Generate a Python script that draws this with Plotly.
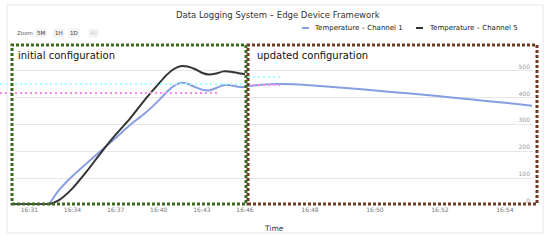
import plotly.graph_objects as go

day = "2021-03-15 "

# Channel 5 - only logged during the initial configuration
ch5_time = ["16:30:00", "16:31:00", "16:32:00", "16:32:20", "16:33:00", "16:34:00",
            "16:35:00", "16:36:00", "16:37:00", "16:38:00", "16:39:00", "16:40:00",
            "16:40:30", "16:41:00", "16:41:30", "16:42:00", "16:42:30", "16:43:00",
            "16:43:30", "16:44:00", "16:44:30", "16:45:00", "16:45:30", "16:46:00"]
ch5_vals = [3, 3, 3, 3, 16, 62, 126, 196, 262, 322, 390, 452,
            482, 505, 517, 516, 507, 493, 486, 490, 498, 497, 492, 488]

# Channel 1 - initial configuration
ch1_time_a = ch5_time
ch1_vals_a = [3, 3, 3, 3, 52, 108, 156, 203, 250, 298, 340, 390,
              418, 442, 455, 452, 440, 430, 427, 436, 446, 446, 441, 440]

# Channel 1 - updated configuration
ch1_time_b = ["16:46:00", "16:46:30", "16:47:00", "16:47:30", "16:48:00", "16:49:00",
              "16:50:00", "16:51:00", "16:52:00", "16:53:00", "16:54:00", "16:54:50"]
ch1_vals_b = [442, 448, 451, 450, 446, 437, 427, 416, 405, 393, 381, 370]

left_ticks = ["16:31", "16:34", "16:37", "16:40", "16:43", "16:46"]
right_ticks = ["16:48", "16:50", "16:52", "16:54"]

blue = "#869fe2"
black = "#333333"
font = "DejaVu Sans"

fig = go.Figure()
fig.add_trace(go.Scatter(x=[day + t for t in ch1_time_a], y=ch1_vals_a, mode="lines",
                         line=dict(color=blue, width=2, shape="spline", smoothing=0.6),
                         xaxis="x", yaxis="y", name="Temperature – Channel 1"))
fig.add_trace(go.Scatter(x=[day + t for t in ch5_time], y=ch5_vals, mode="lines",
                         line=dict(color=black, width=2, shape="spline", smoothing=0.6),
                         xaxis="x", yaxis="y", name="Temperature – Channel 5"))
fig.add_trace(go.Scatter(x=[day + t for t in ch1_time_b], y=ch1_vals_b, mode="lines",
                         line=dict(color=blue, width=2, shape="spline", smoothing=0.6),
                         xaxis="x2", yaxis="y", name="Temperature – Channel 1"))

split = (245 - 15) / 518
tickfont = dict(family=font, size=6, color="#777777")

fig.update_layout(
    width=550, height=241,
    margin=dict(l=15, r=17, t=44, b=36),
    paper_bgcolor="white", plot_bgcolor="white",
    showlegend=False,
    font=dict(family=font),
    xaxis=dict(domain=[0, split], type="date", anchor="y", automargin=False,
               range=[day + "16:30:00", day + "16:46:00"],
               tickvals=[day + t for t in left_ticks], ticktext=left_ticks,
               tickfont=tickfont, showgrid=False, zeroline=False, ticks=""),
    xaxis2=dict(domain=[split, 1], type="date", anchor="y", automargin=False,
                range=[day + "16:46:00", day + "16:54:52"],
                tickvals=[day + t for t in right_ticks], ticktext=right_ticks,
                tickfont=tickfont, showgrid=False, zeroline=False, ticks=""),
    yaxis=dict(anchor="x2", side="right", range=[0, 600], dtick=100, automargin=False,
               ticklabelposition="inside top", tickfont=dict(family=font, size=6, color="#999999"),
               gridcolor="#e6e6e6", zeroline=False, showline=False),
)


def px(x):
    return (x - 15) / 518


def py(y):
    return (205 - y) / 161


shapes = [
    # chart border
    dict(type="rect", xref="paper", yref="paper", x0=px(7), x1=px(543), y0=py(233), y1=py(5),
         line=dict(color="#e8e8e8", width=1), layer="below"),
    # stray guide lines
    dict(type="line", xref="paper", yref="paper", x0=px(0), x1=px(246), y0=py(84), y1=py(84),
         line=dict(color="#a8ffff", width=2, dash="2px,3px")),
    dict(type="line", xref="paper", yref="paper", x0=px(0), x1=px(218), y0=py(93), y1=py(93),
         line=dict(color="#ff88f0", width=2, dash="2px,3px")),
    dict(type="line", xref="paper", yref="paper", x0=px(248), x1=px(280), y0=py(77), y1=py(77),
         line=dict(color="#a8ffff", width=2, dash="2px,3px")),
    dict(type="line", xref="paper", yref="paper", x0=px(248), x1=px(280), y0=py(85), y1=py(85),
         line=dict(color="#ff88f0", width=2, dash="2px,3px")),
    # configuration boxes
    dict(type="rect", xref="paper", yref="paper", x0=px(248), x1=px(537), y0=py(204), y1=py(45),
         line=dict(color="#6e3a22", width=3, dash="3px,2px")),
    dict(type="rect", xref="paper", yref="paper", x0=px(12), x1=px(246), y0=py(204), y1=py(45),
         line=dict(color="#3c6b1e", width=3, dash="3px,2px")),
    # legend symbols
    dict(type="line", xref="paper", yref="paper", x0=px(302), x1=px(309), y0=py(28), y1=py(28),
         line=dict(color=blue, width=2)),
    dict(type="line", xref="paper", yref="paper", x0=px(416), x1=px(423), y0=py(28), y1=py(28),
         line=dict(color=black, width=2)),
]
fig.update_layout(shapes=shapes)

ann = [
    dict(text="Data Logging System – Edge Device Framework", x=px(278), y=py(15),
         font=dict(size=8.5, color="#333333")),
    dict(text="Temperature – Channel 1", x=px(312), y=py(28), xanchor="left",
         font=dict(size=7, color="#222222")),
    dict(text="Temperature – Channel 5", x=px(427), y=py(28), xanchor="left",
         font=dict(size=7, color="#222222")),
    dict(text="Zoom", x=px(15), y=py(33), xanchor="left", font=dict(size=5.5, color="#666666")),
    dict(text="5M", x=px(41), y=py(33), bgcolor="#f2f2f2", font=dict(size=5.5, color="#333333")),
    dict(text="1H", x=px(59), y=py(33), bgcolor="#f2f2f2", font=dict(size=5.5, color="#333333")),
    dict(text="1D", x=px(74), y=py(33), bgcolor="#f2f2f2", font=dict(size=5.5, color="#333333")),
    dict(text="All", x=px(93), y=py(33), bgcolor="#f4f4f4", font=dict(size=5.5, color="#cccccc")),
    dict(text="initial configuration", x=px(16), y=py(55), xanchor="left",
         font=dict(size=10, color="#111111")),
    dict(text="updated configuration", x=px(255), y=py(55), xanchor="left",
         font=dict(size=10, color="#111111")),
    dict(text="Time", x=px(274), y=py(228), font=dict(size=7.5, color="#333333")),
]
for a in ann:
    a.update(xref="paper", yref="paper", showarrow=False)
    a.setdefault("xanchor", "center")
    a["yanchor"] = "middle"
    a["font"]["family"] = font
fig.update_layout(annotations=ann)

# the page's default body margin would shift the chart by 8px
fig.write_html("out.html", config={"displayModeBar": False},
               post_script="document.body.style.margin = '0';")
